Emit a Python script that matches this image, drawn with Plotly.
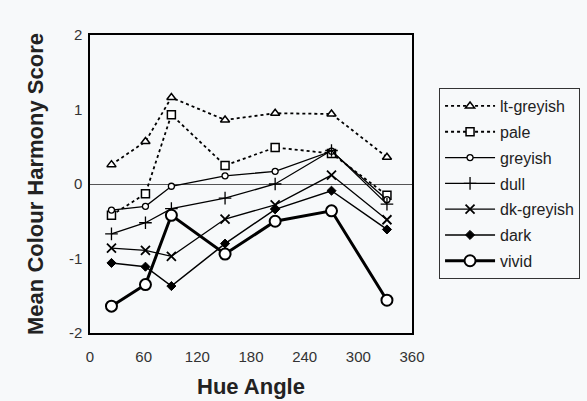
import plotly.graph_objects as go

hue = [24, 62, 91, 151, 207, 270, 332]

lt_greyish = [0.26, 0.57, 1.16, 0.86, 0.95, 0.94, 0.36]
pale = [-0.42, -0.13, 0.93, 0.25, 0.49, 0.41, -0.15]
greyish = [-0.35, -0.30, -0.03, 0.11, 0.17, 0.44, -0.21]
dull = [-0.67, -0.52, -0.33, -0.19, 0.0, 0.45, -0.27]
dk_greyish = [-0.86, -0.89, -0.97, -0.47, -0.28, 0.12, -0.48]
dark = [-1.06, -1.11, -1.37, -0.80, -0.34, -0.09, -0.61]
vivid = [-1.64, -1.35, -0.42, -0.94, -0.50, -0.36, -1.56]

x_ticks = [0, 60, 120, 180, 240, 300, 360]
y_ticks = [-2, -1, 0, 1, 2]

series = [
    ("lt-greyish", lt_greyish, dict(dash="3px,3px", width=1.8), dict(symbol="triangle-up", size=8, color="white", line=dict(color="black", width=1.5))),
    ("pale", pale, dict(dash="3px,3px", width=1.8), dict(symbol="square", size=8, color="white", line=dict(color="black", width=1.5))),
    ("greyish", greyish, dict(width=1.3), dict(symbol="circle", size=6, color="white", line=dict(color="black", width=1.3))),
    ("dull", dull, dict(width=1.3), dict(symbol="cross-thin", size=9, color="black", line=dict(color="black", width=1.3))),
    ("dk-greyish", dk_greyish, dict(width=1.3), dict(symbol="x-thin", size=9, color="black", line=dict(color="black", width=1.8))),
    ("dark", dark, dict(width=1.5), dict(symbol="diamond", size=7, color="black", line=dict(color="black", width=1))),
    ("vivid", vivid, dict(width=3), dict(symbol="circle", size=11, color="white", line=dict(color="black", width=2))),
]

fig = go.Figure()
for name, vals, ln, mk in series:
    fig.add_trace(go.Scatter(
        x=hue, y=vals, name=name, mode="lines+markers", legendgroup=name,
        line=dict(color="black", **ln), marker=mk,
    ))

bg = "#f7f9fa"
fig.update_layout(
    width=587, height=401,
    margin=dict(l=90, r=175, t=35, b=68, autoexpand=False),
    paper_bgcolor=bg, plot_bgcolor=bg,
    font=dict(family="Liberation Sans, Arial, sans-serif", color="#222"),
    showlegend=True,
    legend=dict(
        x=1.084, y=0.822, xanchor="left", yanchor="top",
        bordercolor="#333", borderwidth=1, bgcolor=bg,
        font=dict(size=16, color="#222"),
        itemwidth=50, tracegroupgap=2,
    ),
)
fig.update_xaxes(
    range=[0, 360], tickvals=x_ticks, ticktext=[str(v) for v in x_ticks],
    showgrid=False, zeroline=False, showline=True, linecolor="black", linewidth=1.5,
    mirror=True, ticks="", tickfont=dict(size=15, color="#333"), ticklabelstandoff=9,
    automargin=False,
    title=dict(text="<b>Hue Angle</b>", font=dict(size=22, color="#222"), standoff=15),
)
fig.update_yaxes(
    range=[-2, 2], tickvals=y_ticks, ticktext=[str(v) for v in y_ticks],
    showgrid=False, zeroline=True, zerolinecolor="#555", zerolinewidth=1.2,
    showline=True, linecolor="black", linewidth=1.5,
    mirror=True, ticks="", tickfont=dict(size=15, color="#333"), ticklabelstandoff=3,
    automargin=False,
    title=dict(text="<b>Mean Colour Harmony Score</b>", font=dict(size=22, color="#222"), standoff=19),
)

fig.write_html("out.html", config={"displayModeBar": False},
               post_script="document.body.style.margin='0';")
